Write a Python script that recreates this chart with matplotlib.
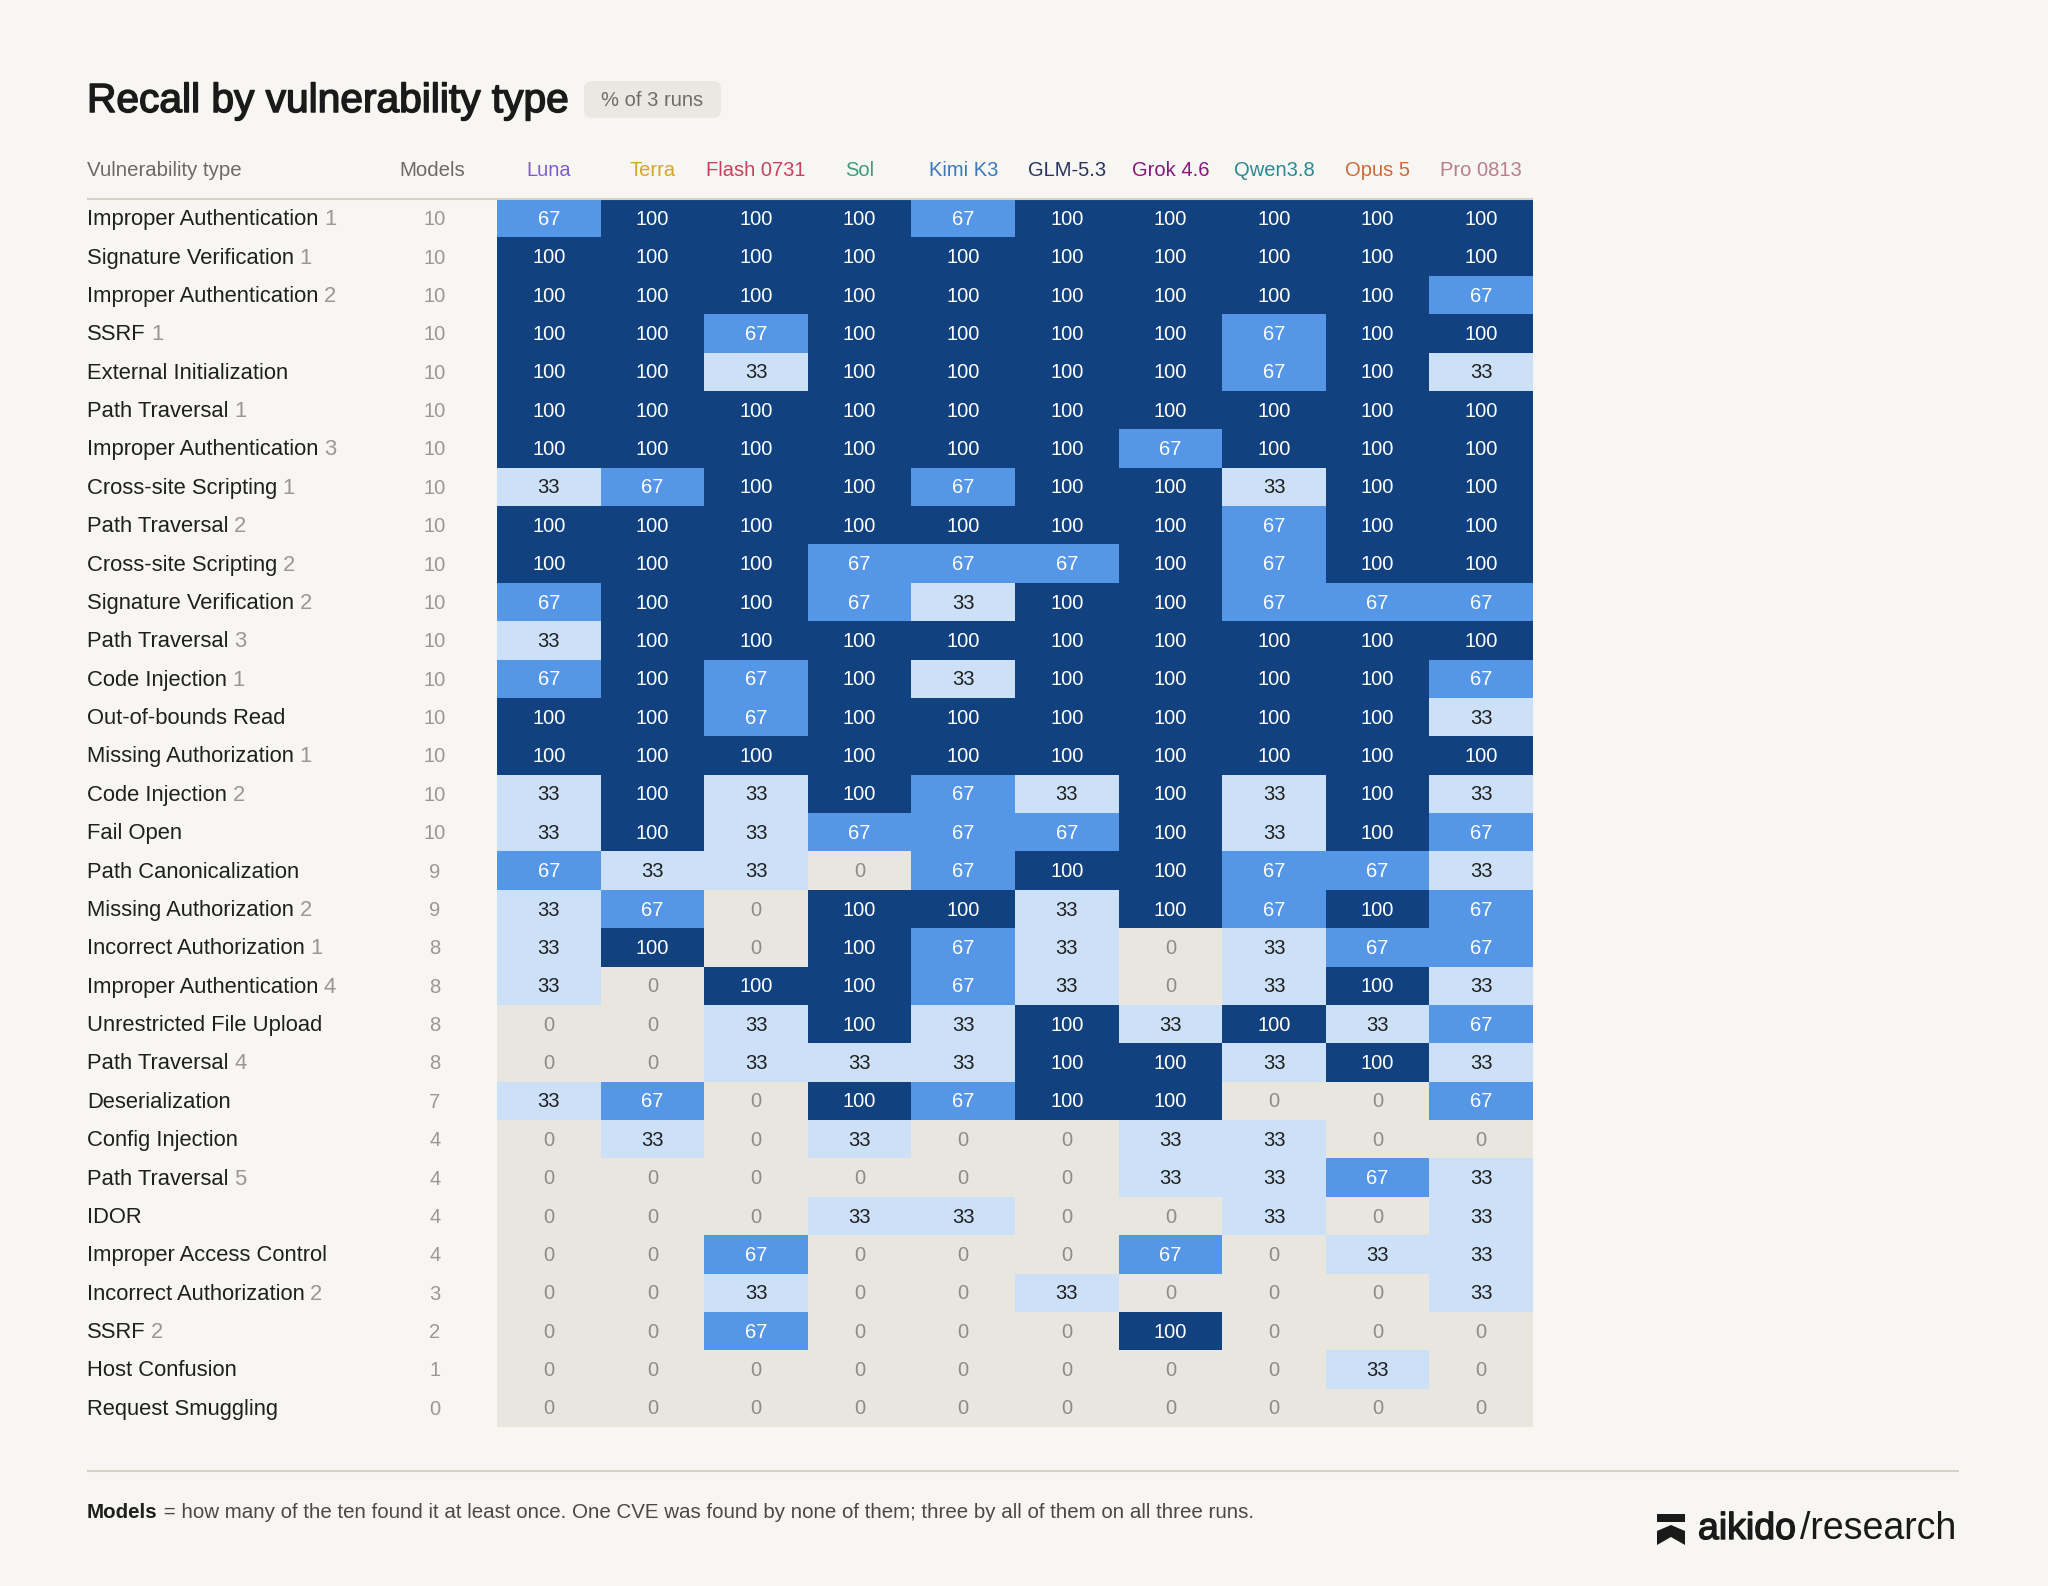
import matplotlib
matplotlib.use("Agg")
import matplotlib.pyplot as plt
import numpy as np
from matplotlib.colors import ListedColormap, BoundaryNorm
from matplotlib.patches import FancyBboxPatch, Rectangle, Polygon
from matplotlib.transforms import blended_transform_factory
import matplotlib.patheffects as pe

# ---------------- data ----------------
models = ["Luna", "Terra", "Flash 0731", "Sol", "Kimi K3", "GLM-5.3",
          "Grok 4.6", "Qwen3.8", "Opus 5", "Pro 0813"]
model_colors = ["#7E5FD0", "#D4A62A", "#C8405E", "#3E9E78", "#3B78C0",
                "#2A365F", "#87177F", "#2A8A94", "#D06A35", "#B87E8C"]

vuln_types = ["Improper Authentication", "Signature Verification", "Improper Authentication",
              "SSRF", "External Initialization", "Path Traversal", "Improper Authentication",
              "Cross-site Scripting", "Path Traversal", "Cross-site Scripting",
              "Signature Verification", "Path Traversal", "Code Injection", "Out-of-bounds Read",
              "Missing Authorization", "Code Injection", "Fail Open", "Path Canonicalization",
              "Missing Authorization", "Incorrect Authorization", "Improper Authentication",
              "Unrestricted File Upload", "Path Traversal", "Deserialization", "Config Injection",
              "Path Traversal", "IDOR", "Improper Access Control", "Incorrect Authorization",
              "SSRF", "Host Confusion", "Request Smuggling"]
vuln_suffix = ["1", "1", "2", "1", "", "1", "3", "1", "2", "2", "2", "3", "1", "", "1", "2",
               "", "", "2", "1", "4", "", "4", "", "", "5", "", "", "2", "2", "", ""]
models_found = [10, 10, 10, 10, 10, 10, 10, 10, 10, 10, 10, 10, 10, 10, 10, 10, 10,
                9, 9, 8, 8, 8, 8, 7, 4, 4, 4, 4, 3, 2, 1, 0]

recall = [
    [67, 100, 100, 100, 67, 100, 100, 100, 100, 100],
    [100, 100, 100, 100, 100, 100, 100, 100, 100, 100],
    [100, 100, 100, 100, 100, 100, 100, 100, 100, 67],
    [100, 100, 67, 100, 100, 100, 100, 67, 100, 100],
    [100, 100, 33, 100, 100, 100, 100, 67, 100, 33],
    [100, 100, 100, 100, 100, 100, 100, 100, 100, 100],
    [100, 100, 100, 100, 100, 100, 67, 100, 100, 100],
    [33, 67, 100, 100, 67, 100, 100, 33, 100, 100],
    [100, 100, 100, 100, 100, 100, 100, 67, 100, 100],
    [100, 100, 100, 67, 67, 67, 100, 67, 100, 100],
    [67, 100, 100, 67, 33, 100, 100, 67, 67, 67],
    [33, 100, 100, 100, 100, 100, 100, 100, 100, 100],
    [67, 100, 67, 100, 33, 100, 100, 100, 100, 67],
    [100, 100, 67, 100, 100, 100, 100, 100, 100, 33],
    [100, 100, 100, 100, 100, 100, 100, 100, 100, 100],
    [33, 100, 33, 100, 67, 33, 100, 33, 100, 33],
    [33, 100, 33, 67, 67, 67, 100, 33, 100, 67],
    [67, 33, 33, 0, 67, 100, 100, 67, 67, 33],
    [33, 67, 0, 100, 100, 33, 100, 67, 100, 67],
    [33, 100, 0, 100, 67, 33, 0, 33, 67, 67],
    [33, 0, 100, 100, 67, 33, 0, 33, 100, 33],
    [0, 0, 33, 100, 33, 100, 33, 100, 33, 67],
    [0, 0, 33, 33, 33, 100, 100, 33, 100, 33],
    [33, 67, 0, 100, 67, 100, 100, 0, 0, 67],
    [0, 33, 0, 33, 0, 0, 33, 33, 0, 0],
    [0, 0, 0, 0, 0, 0, 33, 33, 67, 33],
    [0, 0, 0, 33, 33, 0, 0, 33, 0, 33],
    [0, 0, 67, 0, 0, 0, 67, 0, 33, 33],
    [0, 0, 33, 0, 0, 33, 0, 0, 0, 33],
    [0, 0, 67, 0, 0, 0, 100, 0, 0, 0],
    [0, 0, 0, 0, 0, 0, 0, 0, 33, 0],
    [0, 0, 0, 0, 0, 0, 0, 0, 0, 0],
]

title = "Recall by vulnerability type"
badge = "% of 3 runs"
footnote_bold = "Models"
footnote_rest = " = how many of the ten found it at least once. One CVE was found by none of them; three by all of them on all three runs."

# ---------------- style ----------------
BG = "#F7F6F2"
FONT = ["Liberation Sans", "DejaVu Sans"]
plt.rcParams["font.family"] = FONT
DARK = "#1F1F1F"
GRAY = "#9A9893"
HEAD = "#6B6A66"
LINE = "#D6D2C9"

W, H = 2048, 1586
fig = plt.figure(figsize=(W / 100, H / 100), dpi=100, facecolor=BG)

ov = fig.add_axes([0, 0, 1, 1])
ov.set_xlim(0, W)
ov.set_ylim(H, 0)
ov.axis("off")
ov.set_zorder(2)
ov.patch.set_alpha(0)

# heatmap axes
gx0, gx1, gy0, gy1 = 497, 1533, 199, 1427
hm = fig.add_axes([gx0 / W, 1 - gy1 / H, (gx1 - gx0) / W, (gy1 - gy0) / H])
data = np.array(recall, dtype=float)
cmap = ListedColormap(["#E9E6DF", "#CCE0F8", "#5597E6", "#11427F"])
norm = BoundaryNorm([-1, 10, 50, 80, 101], cmap.N)
hm.pcolormesh(np.arange(len(models) + 1) - 0.5, np.arange(len(vuln_types) + 1) - 0.5,
              data, cmap=cmap, norm=norm)
hm.set_xlim(-0.5, len(models) - 0.5)
hm.set_ylim(len(vuln_types) - 0.5, -0.5)
hm.axis("off")

for i in range(len(vuln_types)):
    for j in range(len(models)):
        v = recall[i][j]
        if v >= 50:
            c = "white"
        elif v > 0:
            c = DARK
        else:
            c = "#8E8C86"
        hm.text(j, i + 0.03, str(v), ha="center", va="center", fontsize=14.5, color=c)

# column headers
for j, (m, c) in enumerate(zip(models, model_colors)):
    hm.text(j, -0.5 - 28 / 38.375, m, ha="center", va="center", fontsize=14.5, color=c,
            clip_on=False)

# row labels and models count
tr = blended_transform_factory(ov.transData, hm.transData)
for i, (name, suf, n) in enumerate(zip(vuln_types, vuln_suffix, models_found)):
    t = ov.text(87, i + 0.04, name, ha="left", va="center", fontsize=15.8, color=DARK,
                transform=tr)
    if suf:
        ov.annotate(suf, xy=(1, 0), xycoords=t, xytext=(4, 0), textcoords="offset points",
                    ha="left", va="bottom", fontsize=15.8, color=GRAY)
    ov.text(435, i + 0.04, str(n), ha="center", va="center", fontsize=14.5, color=GRAY,
            transform=tr)

# header row
ov.text(87, 171, "Vulnerability type", ha="left", va="center", fontsize=14.7, color=HEAD)
ov.text(432, 171, "Models", ha="center", va="center", fontsize=14.7, color=HEAD)
ov.plot([87, gx1], [198.5, 198.5], color=LINE, lw=1.5, solid_capstyle="butt")

# title + badge
ov.text(87, 112, title, ha="left", va="baseline", fontsize=29.3, color="#1A1A1A",
        path_effects=[pe.withStroke(linewidth=1.1, foreground="#1A1A1A")])
ov.add_patch(FancyBboxPatch((584 + 8, 81 + 8), 137 - 16, 37 - 16,
                            boxstyle="round,pad=8", fc="#EAE8E3", ec="none"))
ov.text(652.5, 100, badge, ha="center", va="center", fontsize=14.5, color="#6E6D68")

# footer
ov.plot([87, 1959], [1471, 1471], color=LINE, lw=1.5, solid_capstyle="butt")
fb = ov.text(87, 1512, footnote_bold, ha="left", va="center", fontsize=14.8,
             color=DARK, fontweight="bold")
ov.annotate(footnote_rest, xy=(1, 0), xycoords=fb, xytext=(0, 0), textcoords="offset points",
            ha="left", va="bottom", fontsize=14.8, color="#4A4945")

# logo
ov.add_patch(Rectangle((1657, 1514), 28, 8, fc="#1A1A1A", ec="none"))
ov.add_patch(Polygon([(1657, 1531), (1671, 1525), (1685, 1531), (1685, 1545),
                      (1671, 1537), (1657, 1545)], closed=True, fc="#1A1A1A", ec="none"))
lg = ov.text(1698, 1539, "aikido", ha="left", va="baseline", fontsize=27, color="#1A1A1A",
             path_effects=[pe.withStroke(linewidth=1.0, foreground="#1A1A1A")])
ov.annotate("/research", xy=(1, 0), xycoords=lg, xytext=(3, 0), textcoords="offset points",
            ha="left", va="bottom", fontsize=27, color="#1A1A1A")

fig.savefig("out.png", dpi=100, facecolor=BG)
